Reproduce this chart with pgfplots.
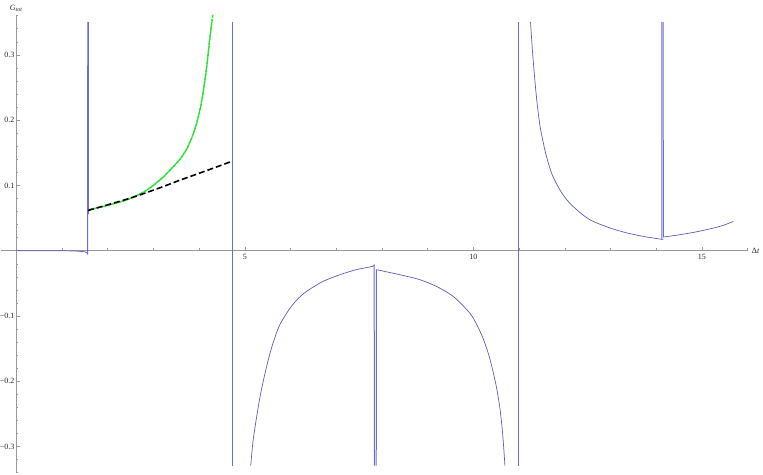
\documentclass[border=0pt]{standalone}
\usepackage{fontspec}
\setmainfont{Liberation Serif}
\usepackage{pgfplots}
\pgfplotsset{compat=1.18}
\usetikzlibrary{calc}
\definecolor{mblue}{rgb}{0.36,0.36,0.72}
\definecolor{vblue}{rgb}{0.42,0.42,0.86}
\definecolor{mgreen}{rgb}{0.15,0.95,0.15}
\definecolor{axgray}{gray}{0.6}
\begin{document}
\begin{tikzpicture}
\begin{axis}[name=ax, at={(0,0)}, anchor=south west,
  scale only axis, width=746.6pt, height=458.4pt,
  xmin=-0.33, xmax=16.0, ymin=-0.341, ymax=0.361,
  axis lines=middle, axis line style={axgray, line width=0.5pt, -},
  xtick={5,10,15}, xticklabels={5,10,15},
  minor xtick={1,2,3,4,6,7,8,9,11,12,13,14,16},
  ytick={-0.3,-0.2,-0.1,0.1,0.2,0.3},
  yticklabels={−0.3,−0.2,−0.1,0.1,0.2,0.3},
  minor ytick={-0.34,-0.32,-0.28,-0.26,-0.24,-0.22,-0.18,-0.16,-0.14,-0.12,-0.08,-0.06,-0.04,-0.02,0.02,0.04,0.06,0.08,0.12,0.14,0.16,0.18,0.22,0.24,0.26,0.28,0.32,0.34,0.36},
  tick align=inside, major tick length=4pt, minor tick length=2.3pt,
  every tick/.style={axgray, line width=0.5pt},
  tick label style={font=\fontsize{8}{9}\selectfont, text=black!85},
  yticklabel style={inner sep=1.5pt},
  xlabel={Δ\textit{t}}, ylabel={\textit{G}\textsubscript{\textit{tot}}},
  label style={font=\fontsize{8}{9}\selectfont, text=black!85},
  xlabel style={at={(axis description cs:1,0.4858)}, anchor=west, inner sep=1pt, xshift=3pt},
  ylabel style={at={(axis description cs:0.0202,1)}, anchor=south, inner sep=1pt, yshift=2pt},
]
% blue: flat part and spike at pi/2
\addplot[mblue, line width=0.7pt, sharp plot] coordinates {
  (0,0.0012) (0.05,0) (0.5,0) (1.0,0) (1.3,-0.0005) (1.5,-0.0015)
  (1.555,-0.004) (1.562,-0.0055) };
\addplot[vblue, line width=1pt, sharp plot] coordinates {
  (1.562,-0.0055) (1.566,0.35) };
\addplot[vblue, line width=1pt, sharp plot] coordinates {
  (1.578,0.35) (1.580,0.056) (1.585,0.062) (1.59,0.0628) };
% asymptote at 3pi/2
\addplot[vblue, line width=1.1pt, sharp plot] coordinates {
  (4.728,-0.329) (4.728,0.35) };
% blue between pi/2 and 3pi/2 (under the green curve)
\addplot[mblue, line width=0.7pt, smooth] coordinates {
  (1.59,0.0628) (1.85,0.0668) (2.12,0.0718) (2.48,0.0795) (2.85,0.0925)
  (3.21,0.1125) (3.58,0.140) (3.75,0.1585) (3.868,0.178) (3.95,0.196)
  (4.029,0.219) (4.09,0.243) (4.145,0.270) (4.19,0.296) (4.23,0.322) (4.27,0.345) (4.278,0.35) };
% blue between 3pi/2 and 5pi/2
\addplot[mblue, line width=0.7pt, smooth] coordinates {
  (5.13,-0.329) (5.18,-0.292) (5.26,-0.254) (5.33,-0.225) (5.40,-0.201) (5.51,-0.168) (5.62,-0.141)
  (5.765,-0.1135) (5.985,-0.0885) (6.17,-0.073) (6.35,-0.0623) (6.71,-0.047)
  (7.08,-0.0368) (7.44,-0.029) (7.79,-0.024) (7.83,-0.0214) };
\addplot[vblue, line width=1pt, sharp plot] coordinates {
  (7.83,-0.0214) (7.835,-0.329) };
\addplot[vblue, line width=1pt, sharp plot] coordinates {
  (7.875,-0.329) (7.88,-0.029) };
% blue between 5pi/2 and 7pi/2
\addplot[mblue, line width=0.7pt, smooth] coordinates {
  (7.88,-0.029) (8.46,-0.0378) (8.83,-0.0444) (9.19,-0.0546) (9.56,-0.070)
  (9.92,-0.0954) (10.08,-0.114) (10.21,-0.134) (10.33,-0.158) (10.43,-0.185)
  (10.51,-0.211) (10.58,-0.241) (10.64,-0.280) (10.69,-0.329) };
% asymptote at 7pi/2
\addplot[vblue, line width=1pt, sharp plot] coordinates {
  (10.996,-0.329) (10.996,0.35) };
% blue between 7pi/2 and 9pi/2
\addplot[mblue, line width=0.7pt, smooth] coordinates {
  (11.25,0.35) (11.29,0.308) (11.35,0.257) (11.40,0.222) (11.46,0.190)
  (11.53,0.165) (11.60,0.144) (11.72,0.117) (11.89,0.0934) (12.06,0.0765)
  (12.26,0.0628) (12.44,0.0525) (12.62,0.0449) (12.99,0.0348)
  (13.35,0.0274) (13.72,0.0219) (14.08,0.0179) (14.12,0.0175) };
\addplot[vblue, line width=1pt, sharp plot] coordinates {
  (14.12,0.0175) (14.125,0.35) };
\addplot[vblue, line width=1pt, sharp plot] coordinates {
  (14.15,0.35) (14.155,0.021) };
% blue after 9pi/2
\addplot[mblue, line width=0.7pt, smooth] coordinates {
  (14.155,0.021) (14.45,0.0238) (14.81,0.0280) (15.18,0.0335) (15.45,0.0385) (15.685,0.0449) };
% green curve
\addplot[mgreen, line width=1.6pt, smooth, dash pattern=on 3pt off 0.9pt] coordinates {
  (1.59,0.0628) (1.85,0.0668) (2.12,0.0718) (2.48,0.0795) (2.85,0.0925)
  (3.21,0.1125) (3.58,0.140) (3.75,0.1585) (3.868,0.178) (3.95,0.196)
  (4.029,0.219) (4.09,0.243) (4.145,0.270) (4.19,0.296) (4.23,0.322) (4.27,0.345) (4.306,0.364) };
% black dashed curve
\addplot[black, line width=1.6pt, smooth, dash pattern=on 6pt off 3pt] coordinates {
  (1.571,0.0617) (2.12,0.0727) (2.48,0.0802) (2.85,0.0890) (3.21,0.0981)
  (3.58,0.1080) (3.95,0.1173) (4.31,0.1264) (4.71,0.1368) };
\end{axis}
\pgfresetboundingbox
\path[use as bounding box] ($(ax.south west)+(-1.1pt,-1.6pt)$) rectangle ($(ax.north east)+(15.3pt,15pt)$);
\end{tikzpicture}
\end{document}
